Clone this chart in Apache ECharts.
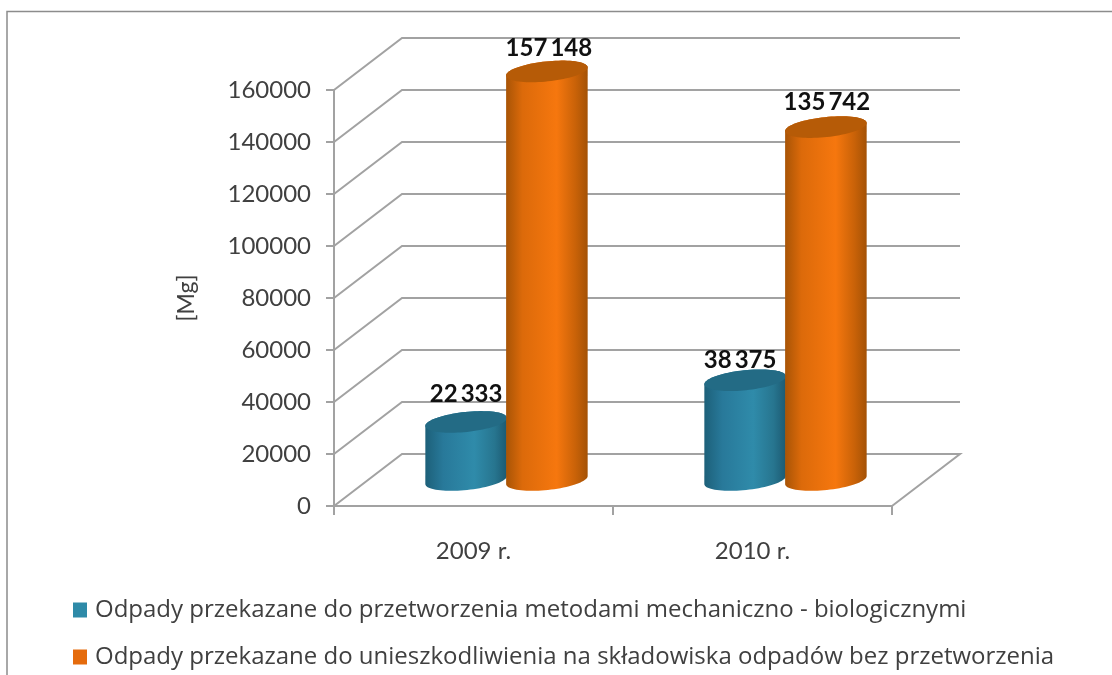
<!DOCTYPE html>
<html>
<head>
<meta charset="utf-8">
<style>html,body{margin:0;padding:0;background:#fff}#c{width:1112px;height:675px}</style>
<script src="https://cdn.jsdelivr.net/npm/echarts@6/dist/echarts.min.js"></script>
</head>
<body>
<div id="c"></div>
<script>
const categories = ['2009 r.', '2010 r.'];
const seriesTeal = [22333, 38375];
const seriesOrange = [157148, 135742];
const nameTeal = 'Odpady przekazane do przetworzenia metodami mechaniczno - biologicznymi';
const nameOrange = 'Odpady przekazane do unieszkodliwienia na składowiska odpadów bez przetworzenia';
const yTicks = [0, 20000, 40000, 60000, 80000, 100000, 120000, 140000, 160000];
const yMin = 0, yMax = 160000, yStep = 20000;

const FONT = 'Lato, "Open Sans", sans-serif';
const LEGEND_FONT = '"Open Sans", Lato, sans-serif';
const TEXT = '#404040';
const LINE = '#a2a2a2';
const DEPTH_X = 68 / 279;      // wall depth, share of a category band
const CYL_W = 82 / 279;        // cylinder width, share of a category band
const TILT = 6 * Math.PI / 180;
const RY = 10;

function fmt(v) {
  return String(v).replace(/\B(?=(\d{3})+$)/g, '\u2009');
}
function wallItem(params, api) {
  const v = api.value(1);
  const band = api.size([1, 0])[0];
  const stepPx = api.size([0, yStep])[1];
  const dx = band * DEPTH_X, dy = stepPx;
  const p0 = api.coord([0, v]);
  const p1 = api.coord([categories.length - 1, v]);
  const xl = p0[0] - band / 2, xr = p1[0] + band / 2, y = p0[1];
  const pts = [[xl, y], [xl + dx, y - dy], [xr + dx, y - dy]];
  if (v === yMin) pts.push([xr, y]);
  return { type: 'polyline', shape: { points: pts }, style: { fill: 'none', stroke: LINE, lineWidth: 2 }, silent: true };
}
function ell(cx, cy, rx, t) {
  const c = Math.cos(t), s = Math.sin(t);
  return [cx + rx * c * Math.cos(TILT) + RY * s * Math.sin(TILT),
          cy - rx * c * Math.sin(TILT) + RY * s * Math.cos(TILT)];
}
function cylinder(side, sideStops, topColor, labelShift) {
  return function (params, api) {
    const i = api.value(0), v = api.value(1);
    const band = api.size([1, 0])[0];
    const dx = band * DEPTH_X / 2, dy = api.size([0, yStep])[1] / 2;
    const rx = band * CYL_W / 2;
    const off = side * rx * 0.985 - 1;
    const top = api.coord([i, v]), base = api.coord([i, yMin]);
    const cx = top[0] + dx + off, ty = top[1] - dy, by = base[1] - dy;
    const pts = [];
    const N = 40;
    for (let k = 0; k <= N; k++) pts.push(ell(cx, by, rx, Math.PI * k / N));
    for (let k = 0; k <= N; k++) pts.push(ell(cx, ty, rx, Math.PI + Math.PI * k / N));
    const tp = [];
    for (let k = 0; k < 2 * N; k++) tp.push(ell(cx, ty, rx, Math.PI * k / N));
    const shift = labelShift[i];
    return {
      type: 'group',
      children: [
        { type: 'polygon', shape: { points: pts }, style: {
            fill: new echarts.graphic.LinearGradient(0, 0, 1, 0, sideStops) } },
        { type: 'polygon', shape: { points: tp }, style: { fill: topColor } },
        { type: 'text', z2: 50, style: {
            text: fmt(v), x: cx + shift[0], y: ty + shift[1], align: 'center', verticalAlign: 'middle',
            textAlign: 'center', textVerticalAlign: 'middle', fill: '#111',
            font: 'bold 24px ' + FONT } }
      ]
    };
  };
}
const tealStops = [
  { offset: 0, color: '#1d6079' }, { offset: 0.22, color: '#28799a' },
  { offset: 0.6, color: '#2f8baa' }, { offset: 0.85, color: '#27758f' }, { offset: 1, color: '#1c5a72' }];
const orangeStops = [
  { offset: 0, color: '#a85406' }, { offset: 0.2, color: '#dc6a0a' },
  { offset: 0.62, color: '#f6770e' }, { offset: 0.85, color: '#c96208' }, { offset: 1, color: '#a45206' }];
// label offsets relative to each cylinder's top centre
const tealShift = [[0, -28], [-5, -20]];
const orangeShift = [[2, -23], [1, -25]];

const chart = echarts.init(document.getElementById('c'), null, { renderer: 'canvas' });
chart.setOption({
  animation: false,
  backgroundColor: '#fff',
  textStyle: { fontFamily: FONT },
  grid: { left: 334, top: 90, width: 558, height: 416, containLabel: false },
  graphic: [{
    type: 'rect', silent: true, z: -10,
    shape: { x: 7, y: 11.5, width: 1300, height: 900 },
    style: { fill: 'none', stroke: '#8c8c8c', lineWidth: 1.5 }
  }],
  legend: {
    orient: 'vertical', left: 73, top: 598, padding: 0, height: 200, width: 1030,
    itemWidth: 14, itemHeight: 15, itemGap: 23, icon: 'rect',
    selectedMode: false,
    textStyle: { fontFamily: LEGEND_FONT, fontSize: 24, lineHeight: 15, color: TEXT, padding: [0, 0, 0, 3] },
    data: [nameTeal, nameOrange]
  },
  xAxis: {
    type: 'category', data: categories,
    axisLine: { lineStyle: { color: LINE, width: 2 } },
    axisTick: { show: true, alignWithLabel: false, length: 9, lineStyle: { color: LINE, width: 2 } },
    axisLabel: { fontSize: 24, color: TEXT, margin: 33, fontFamily: FONT },
    splitLine: { show: false }
  },
  yAxis: {
    type: 'value', min: yMin, max: yMax, interval: yStep,
    name: '[Mg]', nameLocation: 'middle', nameGap: 136, nameRotate: 90,
    nameTextStyle: { fontSize: 23, color: TEXT, fontFamily: FONT },
    axisLine: { show: true, lineStyle: { color: LINE, width: 2 } },
    axisTick: { show: true, length: 8, lineStyle: { color: LINE, width: 2 } },
    axisLabel: { fontSize: 24, color: TEXT, margin: 23, fontFamily: FONT, formatter: v => String(v) },
    splitLine: { show: false }
  },
  series: [
    {
      type: 'custom', name: 'walls', silent: true, z: 1,
      data: yTicks.map(t => [0, t]), encode: { x: 0, y: 1 },
      renderItem: wallItem
    },
    {
      type: 'custom', name: nameTeal, z: 2,
      itemStyle: { color: '#2e8aa8' },
      data: seriesTeal.map((v, i) => [i, v]), encode: { x: 0, y: 1 },
      renderItem: cylinder(-1, tealStops, '#236b85', tealShift)
    },
    {
      type: 'custom', name: nameOrange, z: 3,
      itemStyle: { color: '#e56b0c' },
      data: seriesOrange.map((v, i) => [i, v]), encode: { x: 0, y: 1 },
      renderItem: cylinder(1, orangeStops, '#b65b07', orangeShift)
    }
  ]
});
</script>
</body>
</html>
